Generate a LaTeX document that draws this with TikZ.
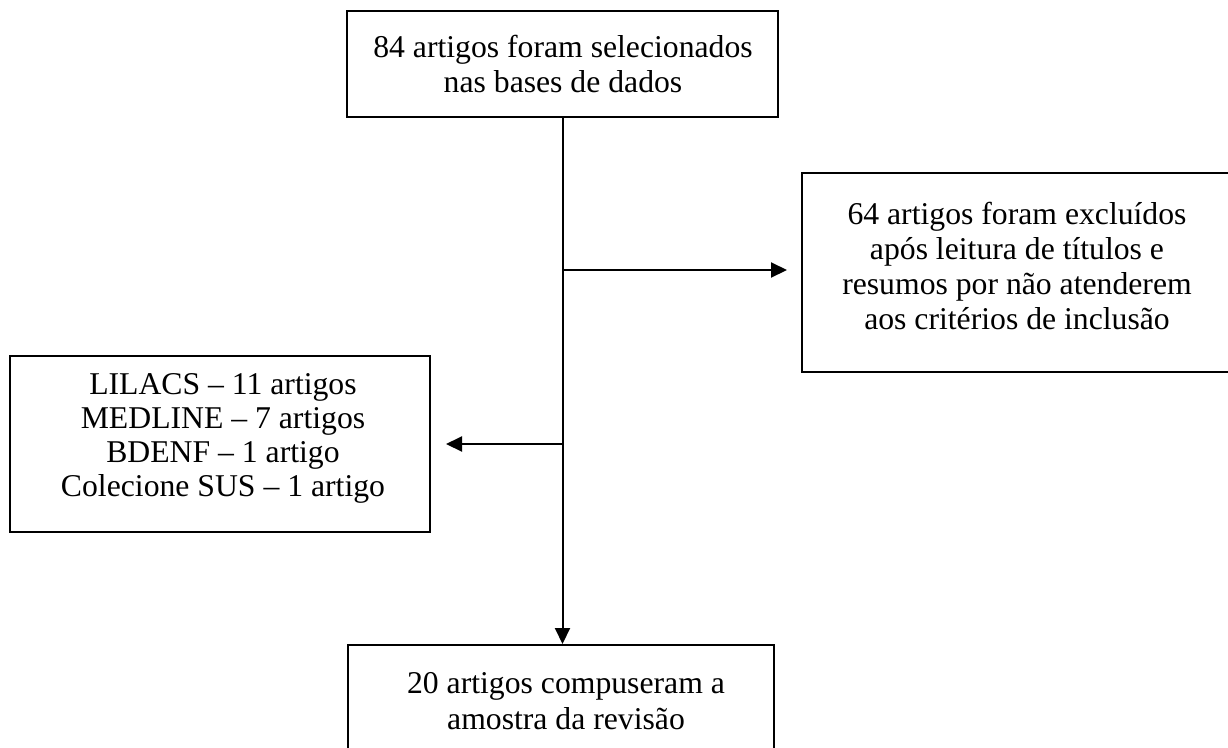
\documentclass[tikz,border=0pt]{standalone}
\usepackage{fontspec}
\setmainfont{Liberation Serif}
\usetikzlibrary{arrows.meta}
\begin{document}
\begin{tikzpicture}[x=1pt,y=1pt,
  box/.style={draw=black, line width=2pt, inner sep=0pt},
  txt/.style={align=center, inner sep=0pt},
  arr/.style={line width=2pt, -{Triangle[length=16pt,width=15pt]}}]
\useasboundingbox (0,0) rectangle (1228,-747);
% boxes
\node[box, minimum width=431, minimum height=106] (top) at (562.5,-64) {};
\node[box, minimum width=430, minimum height=199] (exc) at (1017,-272.5) {};
\node[box, minimum width=420, minimum height=176] (lil) at (220,-444) {};
\node[box, minimum width=426, minimum height=106] (bot) at (561,-698) {};
% texts
\node[txt, font={\fontsize{31.7pt}{35pt}\selectfont}] (toptxt) at (563,-64)
  {84 artigos foram selecionados\\nas bases de dados};
\node[txt, font={\fontsize{31.7pt}{35pt}\selectfont}] (exctxt) at (1017,-265.5)
  {64 artigos foram excluídos\\após leitura de títulos e\\resumos por não atenderem\\aos critérios de inclusão};
\node[txt, font={\fontsize{31.7pt}{34pt}\selectfont}] (liltxt) at (223,-438)
  {LILACS – 11 artigos\\MEDLINE – 7 artigos\\BDENF – 1 artigo\\Colecione SUS – 1 artigo};
\node[txt, font={\fontsize{31.7pt}{36pt}\selectfont}] (bottxt) at (566,-701.5)
  {20 artigos compuseram a\\amostra da revisão};
% connectors
\coordinate (jr) at ([yshift=-152pt]top.south);
\coordinate (jl) at ([yshift=-326pt]top.south);
\draw[arr] (top.south) -- (top.south |- bot.north);
\draw[arr, shorten >=14pt] (jr) -- (jr -| exc.west);
\draw[arr, shorten >=15pt] (jl) -- (jl -| lil.east);
\end{tikzpicture}
\end{document}
